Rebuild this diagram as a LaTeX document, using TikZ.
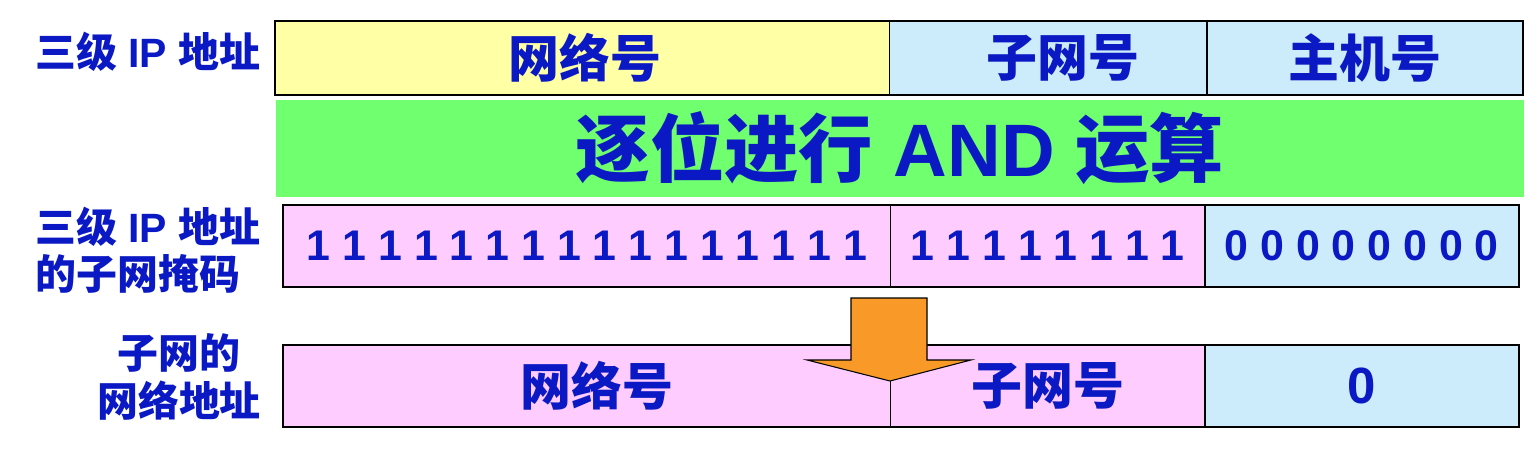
\documentclass[tikz,border=0pt]{standalone}
\usepackage{fontspec}
\setmainfont{Liberation Sans}
\newfontfamily\cjk{Noto Sans CJK SC}
\usetikzlibrary{positioning}

\definecolor{txtblue}{RGB}{10,25,195}
\definecolor{netyellow}{RGB}{255,255,166}
\definecolor{hostblue}{RGB}{204,235,251}
\definecolor{maskpink}{RGB}{255,204,255}
\definecolor{andgreen}{RGB}{111,255,111}
\definecolor{arroworange}{RGB}{249,154,40}

\begin{document}
\begin{tikzpicture}[x=0.02cm, y=-0.02cm]
    \tikzstyle{field} = [draw, line width=0.5pt, inner sep=0pt, outer sep=0pt, anchor=north west, text=txtblue, font=\fontsize{29}{32}\selectfont\bfseries]
    \tikzstyle{bits} = [font=\fontsize{24.4}{28}\selectfont\bfseries]
    \tikzstyle{rowlabel} = [inner sep=0pt, text=txtblue, font=\fontsize{23.3}{27}\selectfont\bfseries]
    \tikzstyle{frame} = [draw, line width=1.2pt]
    \tikzstyle{divider} = [line width=0.8pt]

    \useasboundingbox (0,0) rectangle (1538,456);

    % three-level address
    \node [rowlabel, anchor=west] (lbladdr) at (35,52) {{\cjk 三级} IP {\cjk 地址}};
    \node [field, fill=netyellow, minimum width=12.3cm, minimum height=1.48cm] (net) at (275,21) {\hspace{0.1cm}\cjk 网络号};
    \node [field, fill=hostblue, minimum width=6.34cm, minimum height=1.48cm, right=0pt of net] (subnet) {\hspace{0.6cm}\cjk 子网号};
    \node [field, fill=hostblue, minimum width=6.32cm, minimum height=1.48cm, right=0pt of subnet] (host) {\cjk 主机号};
    \draw [divider] (subnet.north east) -- (subnet.south east);
    \draw [frame] (net.north west) rectangle (host.south east);

    % AND band
    \node [inner sep=0pt, outer sep=0pt, anchor=north west, fill=andgreen, minimum width=24.96cm, minimum height=1.94cm, text=txtblue, font=\fontsize{42.3}{45}\selectfont\bfseries] (andop) at (276,100) {{\cjk 逐位进行} AND {\cjk 运算}};

    % subnet mask
    \node [rowlabel, anchor=west, align=left] (lblmask) at (35,250) {{\cjk 三级} IP {\cjk 地址}\\{\cjk 的子网掩码}};
    \node [field, bits, fill=maskpink, minimum width=12.16cm, minimum height=1.64cm] (masknet) at (283,205) {1 1 1 1 1 1 1 1 1 1 1 1 1 1 1 1};
    \node [field, bits, fill=maskpink, minimum width=6.28cm, minimum height=1.64cm, right=0pt of masknet] (masksub) {1 1 1 1 1 1 1 1};
    \node [field, bits, fill=hostblue, minimum width=6.28cm, minimum height=1.64cm, right=0pt of masksub] (maskhost) {0 0 0 0 0 0 0 0};
    \draw [divider] (masksub.north east) -- (masksub.south east);
    \draw [frame] (masknet.north west) rectangle (maskhost.south east);

    % subnet address
    \node [rowlabel, align=center] (lblsub) at (179,377) {{\cjk 子网的}\\{\cjk 网络地址}};
    \node [field, fill=maskpink, minimum width=12.16cm, minimum height=1.64cm] (resnet) at (283,345) {\hspace{0.4cm}\cjk 网络号};
    \node [field, fill=maskpink, minimum width=6.28cm, minimum height=1.64cm, right=0pt of resnet] (ressub) {\cjk 子网号};
    \node [field, fill=hostblue, minimum width=6.28cm, minimum height=1.64cm, right=0pt of ressub] (reshost) {0};
    \draw [divider] (ressub.north east) -- (ressub.south east);
    \draw [frame] (resnet.north west) rectangle (reshost.south east);

    % block arrow
    \draw [fill=arroworange, line width=0.6pt, line join=miter] (851,298) -- (927,298) -- (927,360) -- (971,360) -- (890,381) -- (807,360) -- (851,360) -- cycle;
\end{tikzpicture}
\end{document}
